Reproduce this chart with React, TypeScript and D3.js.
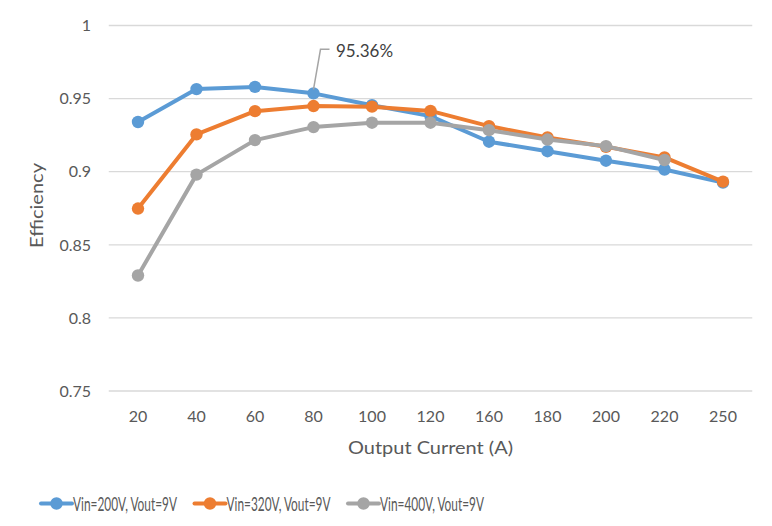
import React from "react";
import * as d3 from "d3";

const categories = ["20", "40", "60", "80", "100", "120", "160", "180", "200", "220", "250"];
const vin200: (number | null)[] = [0.934, 0.9565, 0.958, 0.9536, 0.9455, 0.938, 0.9205, 0.914, 0.9075, 0.9015, 0.8925];
const vin320: (number | null)[] = [0.8748, 0.9255, 0.9414, 0.9449, 0.9445, 0.9416, 0.9312, 0.9234, 0.917, 0.9098, 0.8932];
const vin400: (number | null)[] = [0.829, 0.898, 0.9216, 0.9305, 0.9335, 0.9335, 0.9284, 0.922, 0.9175, 0.908, null];
const yTicks = [0.75, 0.8, 0.85, 0.9, 0.95, 1];
const seriesNames = ["Vin=200V, Vout=9V", "Vin=320V, Vout=9V", "Vin=400V, Vout=9V"];
const seriesColors = ["#5B9BD5", "#ED7D31", "#A5A5A5"];
const annotation = { series: 0, index: 3, text: "95.36%" };

const W = 772, H = 526;
const FONT = "Lato, 'Open Sans', 'Liberation Sans', sans-serif";

export default function App() {
  const x = d3.scaleBand<string>().domain(categories).range([108.75, 752.25]);
  const y = d3.scaleLinear().domain([0.75, 1]).range([391, 25.5]);
  const cx = (c: string) => (x(c) as number) + x.bandwidth() / 2;
  const all = [vin200, vin320, vin400];
  const line = d3
    .line<number | null>()
    .defined((d) => d !== null)
    .x((_, i) => cx(categories[i]))
    .y((d) => y(d as number));

  const ax = cx(categories[annotation.index]);
  const ay = y(all[annotation.series][annotation.index] as number);
  const legSx = 0.72;

  return (
    <svg width={W} height={H} style={{ position: "absolute", left: 0, top: 0 }} fontFamily={FONT}>
      <rect width={W} height={H} fill="#fff" />
      {yTicks.map((t) => (
        <g key={t}>
          <line x1={108.75} x2={752.25} y1={y(t)} y2={y(t)} stroke="#D9D9D9" strokeWidth={1.3} />
          <text x={91} y={y(t)} dy="0.36em" textAnchor="end" fontSize={16} fill="#595959">
            {String(t)}
          </text>
        </g>
      ))}
      {categories.map((c) => (
        <text key={c} x={cx(c)} y={416.5} dy="0.36em" textAnchor="middle" fontSize={16} fill="#595959">
          {c}
        </text>
      ))}
      <text
        x={0}
        y={0}
        transform={`translate(37,205.5) rotate(-90)`}
        dy="0.36em"
        textAnchor="middle"
        fontSize={17}
        fill="#595959"
        textLength={85}
        lengthAdjust="spacingAndGlyphs"
      >
        Efficiency
      </text>
      <text
        x={348}
        y={447.5}
        dy="0.36em"
        fontSize={17}
        fill="#595959"
        textLength={165}
        lengthAdjust="spacingAndGlyphs"
      >
        Output Current (A)
      </text>
      {all.map((s, si) => (
        <g key={si}>
          <path d={line(s) || ""} fill="none" stroke={seriesColors[si]} strokeWidth={4} strokeLinejoin="round" strokeLinecap="round" />
          {s.map((v, i) =>
            v === null ? null : <circle key={i} cx={cx(categories[i])} cy={y(v)} r={6.2} fill={seriesColors[si]} />
          )}
        </g>
      ))}
      <polyline
        points={`${ax},${ay - 4} ${ax + 7},${ay - 44} ${ax + 16},${ay - 44}`}
        fill="none"
        stroke="#A5A5A5"
        strokeWidth={1.5}
      />
      <text
        x={336}
        y={ay - 43}
        dy="0.36em"
        fontSize={18}
        fill="#404040"
        textLength={57}
        lengthAdjust="spacingAndGlyphs"
      >
        {annotation.text}
      </text>
      {seriesNames.map((n, i) => {
        const lx = 41 + i * 153.5;
        return (
          <g key={n}>
            <line x1={lx} x2={lx + 31} y1={503.5} y2={503.5} stroke={seriesColors[i]} strokeWidth={4} strokeLinecap="round" />
            <circle cx={lx + 15.5} cy={503.5} r={6.2} fill={seriesColors[i]} />
            <g transform={`translate(${lx + 32},504) scale(${legSx},1)`}>
              <text
                x={0}
                y={0}
                dy="0.36em"
                fontSize={19.5}
                fill="#595959"
                textLength={104 / legSx}
                lengthAdjust="spacingAndGlyphs"
              >
                {n}
              </text>
            </g>
          </g>
        );
      })}
    </svg>
  );
}
